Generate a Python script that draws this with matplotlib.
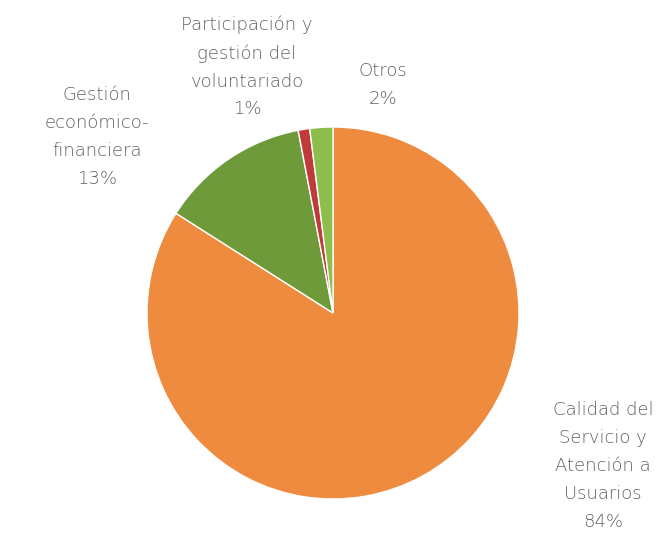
import numpy as np
import matplotlib.pyplot as plt

plt.rcParams['font.family'] = ['DejaVu Sans']

# datos del gráfico
categorias = ['Calidad del\nServicio y\nAtención a\nUsuarios',
              'Gestión\neconómico-\nfinanciera',
              'Participación y\ngestión del\nvoluntariado',
              'Otros']
valores = [84, 13, 1, 2]
colores = ['#EE8B3F', '#6E9A3A', '#C13A3A', '#8DBD4B']
# posición de las etiquetas (pixeles de la imagen)
pos_etiquetas = [(603, 466), (97, 137), (247, 67), (383, 85)]

W, H = 671, 535
fig = plt.figure(figsize=(W / 100, H / 100), dpi=100)
cx, cy, r = 333, 313, 186
ax = fig.add_axes([(cx - r) / W, (H - cy - r) / H, 2 * r / W, 2 * r / H])
ax.pie(valores, colors=colores, startangle=90, counterclock=False,
       wedgeprops=dict(edgecolor='white', linewidth=1))
ax.set_xlim(-1, 1)
ax.set_ylim(-1, 1)
ax.axis('off')

for cat, val, (px, py) in zip(categorias, valores, pos_etiquetas):
    fig.text(px / W, 1 - py / H, cat + '\n' + str(val) + '%', ha='center', va='center',
             fontsize=13, color='#626262', linespacing=1.7, fontweight='light')

fig.savefig('out.png', dpi=100)
